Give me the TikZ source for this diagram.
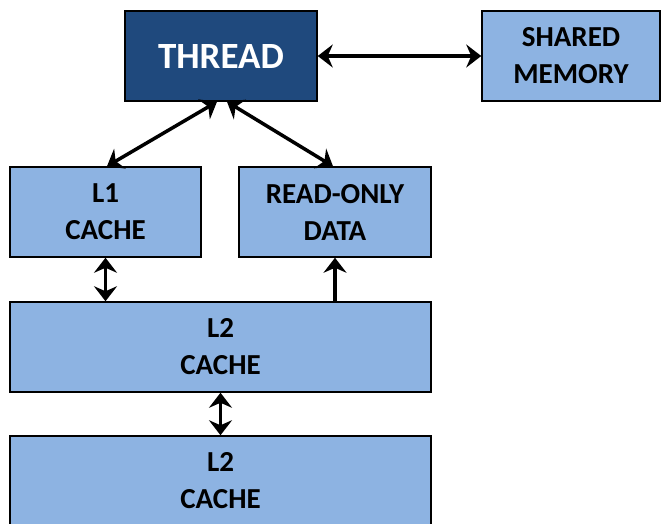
\documentclass[tikz,border=0pt]{standalone}
\usepackage{fontspec}
\setmainfont{Carlito}
\usetikzlibrary{calc,arrows.meta}
\definecolor{threadblue}{HTML}{1F497D}
\definecolor{cacheblue}{HTML}{8DB3E2}

\begin{document}
\begin{tikzpicture}[x=1pt,y=-1pt,
  object/.style={draw,line width=1.5pt,fill=cacheblue,minimum height=90pt,inner sep=0pt,align=center,font=\fontsize{29}{37}\selectfont\bfseries},
  arrow/.style={{Stealth[length=15pt,width=23pt,inset=5pt]}-{Stealth[length=15pt,width=23pt,inset=5pt]},line width=3.5pt},
  uparrow/.style={-{Stealth[length=15pt,width=23pt,inset=5pt]},line width=3.5pt}]
  \useasboundingbox (0,0) rectangle (662,523);
  \node[object,fill=threadblue,text=white,minimum width=192pt,font=\fontsize{37}{40}\selectfont\bfseries] (thread) at (221,56) {THREAD};
  \node[object,minimum width=178pt] (shared memory) at (571,56) {SHARED\\MEMORY};
  \node[object,minimum width=191pt] (l1 cache) at (105.5,212) {L1\\CACHE};
  \node[object,minimum width=192pt] (read only) at (335,212) {READ-ONLY\\DATA};
  \node[object,minimum width=421pt] (l2 cache) at (220.5,347) {L2\\CACHE};
  \node[object,minimum width=421pt] (l2 cache lower) at (220.5,481) {L2\\CACHE};

  \draw[arrow] (thread) -- (shared memory);
  \draw[arrow] ($ (thread.south) + (-4,0) $) -- ($ (l1 cache.north) + (1.5,0) $);
  \draw[arrow] ($ (thread.south) + (6,0) $) -- ($ (read only.north) + (-2,0) $);
  \draw[arrow] (l1 cache.south) -- (l1 cache.south |- l2 cache.north);
  \draw[uparrow] (read only.south |- l2 cache.north) -- (read only.south);
  \draw[arrow] (l2 cache) -- (l2 cache lower);
\end{tikzpicture}
\end{document}
